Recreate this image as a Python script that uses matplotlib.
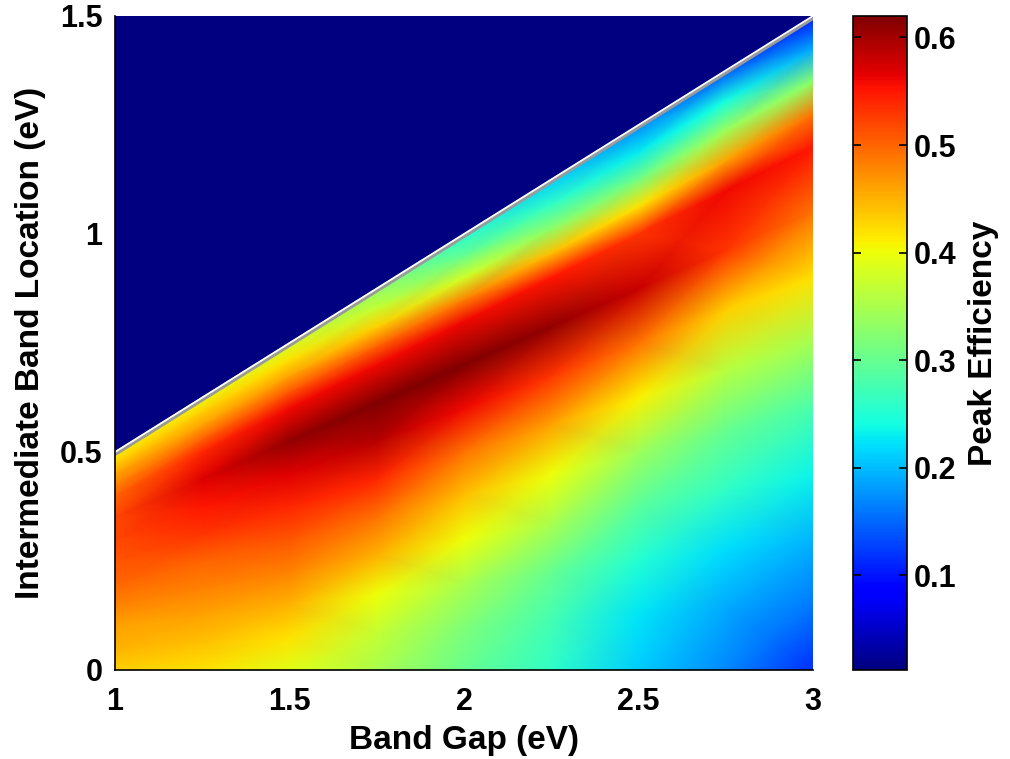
#!/usr/bin/env python3
import numpy as np
import matplotlib
matplotlib.use("Agg")  # headless-safe
import matplotlib.pyplot as plt

# band gap columns (eV)
band_gap = [1.0, 1.25, 1.5, 1.75, 2.0, 2.25, 2.5, 2.75, 3.0]
# intermediate band position as a fraction of the allowed range (0 .. Eg/2)
ib_fraction = [0.0, 0.1, 0.2, 0.3, 0.4, 0.5, 0.6, 0.7, 0.8, 0.85, 0.9, 0.95, 1.0]

# peak efficiency, one list per band gap column (bottom -> top)
eff_100 = [0.43, 0.45, 0.46, 0.48, 0.50, 0.51, 0.52, 0.52, 0.50, 0.48, 0.46, 0.43, 0.41]
eff_125 = [0.42, 0.44, 0.46, 0.48, 0.50, 0.53, 0.55, 0.57, 0.54, 0.50, 0.46, 0.43, 0.40]
eff_150 = [0.39, 0.42, 0.45, 0.48, 0.51, 0.54, 0.57, 0.61, 0.56, 0.51, 0.46, 0.42, 0.38]
eff_175 = [0.35, 0.37, 0.40, 0.45, 0.49, 0.54, 0.59, 0.62, 0.56, 0.50, 0.43, 0.37, 0.33]
eff_200 = [0.30, 0.32, 0.35, 0.40, 0.44, 0.49, 0.56, 0.62, 0.56, 0.48, 0.38, 0.30, 0.25]
eff_225 = [0.26, 0.275, 0.30, 0.35, 0.40, 0.46, 0.53, 0.61, 0.55, 0.44, 0.33, 0.26, 0.21]
eff_250 = [0.21, 0.225, 0.25, 0.29, 0.34, 0.41, 0.49, 0.58, 0.53, 0.42, 0.31, 0.23, 0.17]
eff_275 = [0.17, 0.19, 0.22, 0.26, 0.30, 0.36, 0.43, 0.53, 0.56, 0.46, 0.34, 0.24, 0.14]
eff_300 = [0.115, 0.16, 0.195, 0.235, 0.28, 0.345, 0.42, 0.49, 0.55, 0.49, 0.33, 0.19, 0.10]

cbar_ticks = [0.1, 0.2, 0.3, 0.4, 0.5, 0.6]
xticks = [1, 1.5, 2, 2.5, 3]
yticks = [0, 0.5, 1, 1.5]

eff = np.column_stack([eff_100, eff_125, eff_150, eff_175, eff_200,
                       eff_225, eff_250, eff_275, eff_300])
eg = np.array(band_gap)
frac = np.array(ib_fraction)
X = np.tile(eg, (len(frac), 1))
Y = frac[:, None] * (eg[None, :] / 2.0)

plt.rcParams["font.family"] = ["Liberation Sans", "DejaVu Sans"]
plt.rcParams["font.weight"] = "bold"

fig = plt.figure(figsize=(10.1, 7.59), dpi=100)
ax = fig.add_axes([0.1139, 0.1173, 0.6911, 0.8617])
cax = fig.add_axes([0.8446, 0.1173, 0.0535, 0.8617])

cmap = plt.get_cmap("jet")
vmin, vmax = 0.012, 0.62
ax.set_facecolor(cmap(0.0))
mesh = ax.pcolormesh(X, Y, eff, cmap=cmap, vmin=vmin, vmax=vmax,
                     shading="gouraud", rasterized=True)
# edge of the allowed region
ax.plot(X[-1], Y[-1] - 0.006, color="#9a9a9a", lw=2.2, solid_capstyle="butt")
ax.plot(X[-1], Y[-1], color="white", lw=1.3, solid_capstyle="butt")

ax.set_xlim(1, 3)
ax.set_ylim(0, 1.5)
ax.set_xticks(xticks)
ax.set_xticklabels(["1", "1.5", "2", "2.5", "3"])
ax.set_yticks(yticks)
ax.set_yticklabels(["0", "0.5", "1", "1.5"])
ax.tick_params(axis="x", length=0, labelsize=22, pad=12)
ax.tick_params(axis="y", length=0, labelsize=22, pad=9)
for s in ["top", "right"]:
    ax.spines[s].set_visible(False)
for s in ["bottom", "left"]:
    ax.spines[s].set_linewidth(1.2)
ax.set_xlabel("Band Gap (eV)", fontsize=24, fontweight="bold", labelpad=6)
ax.set_ylabel("Intermediate Band Location (eV)", fontsize=24, fontweight="bold", labelpad=10)

cb = fig.colorbar(mesh, cax=cax, ticks=cbar_ticks)
cb.ax.tick_params(direction="in", left=True, right=True, length=6, width=1.2,
                  labelsize=22, pad=5)
cb.ax.set_yticklabels(["0.1", "0.2", "0.3", "0.4", "0.5", "0.6"])
cb.outline.set_linewidth(1.2)
cb.set_label("Peak Efficiency", fontsize=24, fontweight="bold", labelpad=8)

fig.savefig("out.png", dpi=100)
plt.close(fig)
